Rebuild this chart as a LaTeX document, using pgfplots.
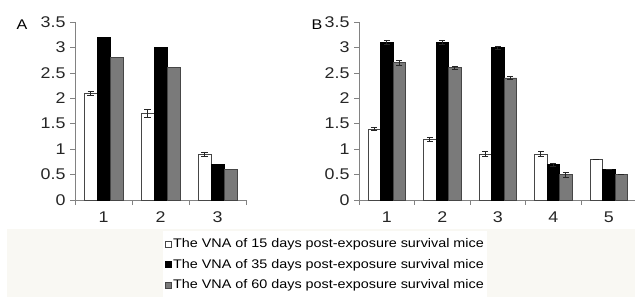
\documentclass[border=0pt]{standalone}
\usepackage{fontspec}
\setmainfont{Liberation Sans}[FakeStretch=1.15]
\usepackage{pgfplots}
\usepackage{pgfplotstable}
\pgfplotsset{compat=1.18}

\definecolor{axgray}{RGB}{130,130,130}
\definecolor{bargray}{RGB}{122,122,122}
\definecolor{edgegray}{RGB}{70,70,70}
\definecolor{band}{RGB}{249,248,243}

\pgfplotstableread{
x w we b be g ge
1 2.1 0.035 3.2 0 2.8 0
2 1.7 0.08 3.0 0 2.6 0
3 0.9 0.035 0.7 0 0.6 0
}\dataA

\pgfplotstableread{
x w we b be g ge
1 1.4 0.03 3.1 0.04 2.7 0.05
2 1.2 0.04 3.1 0.04 2.6 0.03
3 0.9 0.05 3.0 0.03 2.4 0.03
4 0.9 0.05 0.7 0.03 0.5 0.05
5 0.8 0 0.6 0 0.5 0
}\dataB

\pgfplotsset{
  panel/.style={
    scale only axis,
    anchor=south west,
    height=178bp,
    ymin=0, ymax=3.5,
    ytick={0,0.5,1,1.5,2,2.5,3,3.5},
    axis lines*=left,
    axis line style={axgray, line width=0.7pt},
    tick align=outside,
    major tick length=5bp,
    minor tick length=5bp,
    tick style={axgray, line width=0.7pt},
    major x tick style={draw=none},
    /pgf/number format/assume math mode=true,
    ticklabel style={font=\fontsize{15.5bp}{17bp}\selectfont, text=black!85},
    yticklabel style={xshift=-1bp},
    xticklabel style={yshift=-3bp},
    clip=false,
  },
  wbar/.style={fill=white, draw=edgegray, line width=0.6pt},
  bbar/.style={fill=black, draw=black, line width=0.6pt},
  gbar/.style={fill=bargray, draw=edgegray, line width=0.6pt},
  eb/.style={error bars/.cd, y dir=both, y explicit,
    error bar style={line width=0.6pt, black!85},
    error mark options={rotate=90, mark size=3bp, line width=0.6pt, black!85}},
}

\begin{document}
\begin{tikzpicture}
\path[use as bounding box] (0,0) rectangle (635bp,297bp);
\fill[band] (7bp,0) rectangle (635bp,68bp);

\begin{axis}[panel,
  at={(75bp,97bp)},
  width=171bp,
  xmin=0.5, xmax=3.5,
  xtick={1,2,3},
  minor xtick={0.5,1.5,2.5,3.5},
  ybar=0pt, bar width=13bp,
  legend style={at={(0.5146,-0.3624)}, anchor=west, draw=none, fill=white,
    font=\fontsize{12.5bp}{14bp}\selectfont, row sep=10bp,
    inner xsep=2bp, inner ysep=8bp,
    nodes={inner xsep=1.5bp, inner ysep=0bp}},
  legend cell align=left,
  legend image code/.code={\draw[#1, line width=0.6pt] (0bp,-2.9bp) rectangle (5.8bp,2.9bp);},
]
\addplot[wbar, eb] table[x=x, y=w, y error=we] {\dataA};
\addplot[bbar] table[x=x, y=b] {\dataA};
\addplot[gbar] table[x=x, y=g] {\dataA};
\legend{The VNA of 15 days post-exposure survival mice,
        The VNA of 35 days post-exposure survival mice,
        The VNA of 60 days post-exposure survival mice}
\end{axis}

\begin{axis}[panel,
  at={(359bp,97bp)},
  width=277.5bp,
  xmin=0.5, xmax=5.5,
  xtick={1,2,3,4,5},
  minor xtick={0.5,1.5,2.5,3.5,4.5,5.5},
  ybar=0pt, bar width=12.5bp,
]
\addplot[wbar, eb] table[x=x, y=w, y error=we] {\dataB};
\addplot[bbar, eb] table[x=x, y=b, y error=be] {\dataB};
\addplot[gbar, eb] table[x=x, y=g, y error=ge] {\dataB};
\end{axis}

\node[font=\fontsize{14bp}{16bp}\selectfont] at (22bp,272bp) {A};
\node[font=\fontsize{14bp}{16bp}\selectfont] at (317bp,272bp) {B};
\end{tikzpicture}
\end{document}
